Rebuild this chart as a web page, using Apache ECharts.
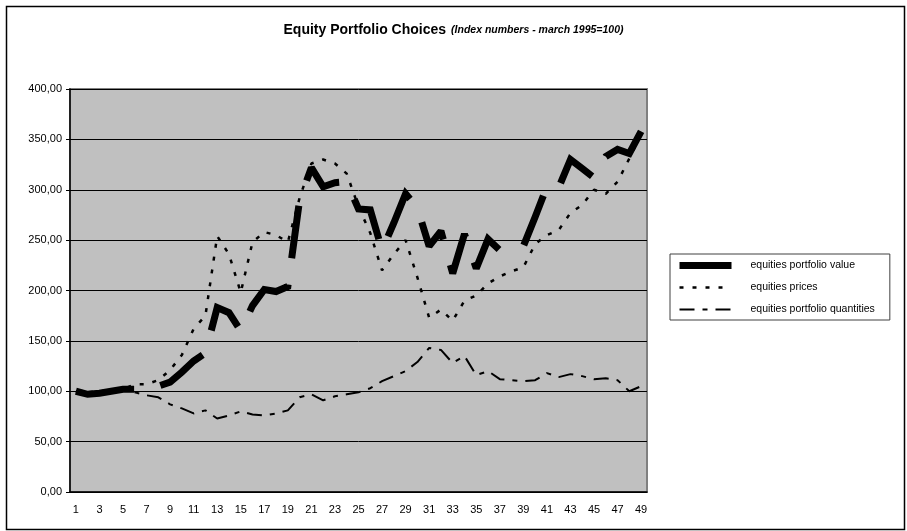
<!DOCTYPE html>
<html>
<head>
<meta charset="utf-8">
<script src="https://cdn.jsdelivr.net/npm/echarts@6/dist/echarts.min.js"></script>
<style>
  html, body { margin: 0; padding: 0; background: #fff; }
  #chart { width: 907px; height: 531px; }
</style>
</head>
<body>
<div id="chart"></div>
<script>
// x categories (months since march 1995)
const categories = ["1","2","3","4","5","6","7","8","9","10","11","12","13","14","15","16","17","18","19","20",
  "21","22","23","24","25","26","27","28","29","30","31","32","33","34","35","36","37","38","39","40",
  "41","42","43","44","45","46","47","48","49"];

// index numbers
const portfolioValue = [100, 97, 98, 100, 102, 102, 103, 105, 109, 119, 130, 138, 183, 178, 160, 185, 201, 199, 204, 290,
  322, 303, 307, 308, 281, 280, 240, 267, 296, 282, 244, 259, 217, 256, 222, 251, 240, 244, 244, 273,
  303, 302, 330, 321, 312, 333, 340, 336, 358];
const equityPrices = [100, 99, 100, 101, 102, 107, 107, 111, 121, 136, 162, 175, 254, 236, 198, 248, 258, 255, 248, 292,
  326, 330, 326, 316, 283, 257, 220, 236, 250, 213, 173, 181, 170, 190, 195, 207, 214, 219, 223, 246,
  255, 260, 277, 285, 300, 296, 308, 331, 355];
const portfolioQuantities = [100, 98, 99, 100, 101, 99, 96, 94, 87, 83, 78, 81, 73, 76, 80, 77, 76, 78, 81, 94,
  97, 91, 95, 97, 99, 103, 110, 115, 120, 129, 143, 141, 128, 135, 116, 120, 112, 111, 110, 111,
  118, 114, 117, 115, 112, 113, 111, 100, 105];

const yTicks = { min: 0, max: 400, step: 50 };
const FONT = "Liberation Sans, Arial, sans-serif";

// long-dash pattern of the heavy line: a slightly longer first dash, then regular dashes
const heavyDash = [59];
for (let i = 0; i < 16; i++) heavyDash.push(26.5, 53);
heavyDash.push(26.5);

const chart = echarts.init(document.getElementById("chart"));

chart.setOption({
  animation: false,
  backgroundColor: "#fff",
  textStyle: { fontFamily: FONT, color: "#000" },
  title: {
    text: "{a|Equity Portfolio Choices} {b|(Index numbers - march 1995=100)}",
    left: "center",
    top: 16,
    textStyle: {
      rich: {
        a: { fontSize: 14, fontWeight: "bold", fontFamily: FONT, color: "#000" },
        b: { fontSize: 10.5, fontWeight: "bold", fontStyle: "italic", fontFamily: FONT, color: "#000" }
      }
    }
  },
  graphic: [{
    type: "rect", left: 4, top: 4, silent: true,
    shape: { width: 898, height: 523 },
    style: { fill: "none", stroke: "#000", lineWidth: 1.5 }
  }],
  grid: {
    left: 70, right: 260, top: 89, bottom: 39,
    show: true, backgroundColor: "#C0C0C0", borderColor: "#808080", borderWidth: 2
  },
  legend: {
    orient: "vertical",
    left: 670, top: 254,
    padding: [5, 15, 4, 6],
    itemWidth: 52, itemHeight: 8, itemGap: 9,
    borderColor: "#404040", borderWidth: 1,
    backgroundColor: "#fff",
    itemStyle: { opacity: 0 },
    textStyle: { fontSize: 10.5, fontFamily: FONT, color: "#000", padding: [0, 0, 0, 14], lineHeight: 13 },
    data: [
      { name: "equities portfolio value", lineStyle: { width: 7 } },
      { name: "equities prices", lineStyle: { width: 2.5 } },
      { name: "equities portfolio quantities", lineStyle: { width: 2 } }
    ]
  },
  xAxis: {
    type: "category",
    data: categories,
    boundaryGap: true,
    axisLine: { lineStyle: { color: "#000", width: 1.5 } },
    axisTick: { inside: true, length: 4, interval: 0, lineStyle: { color: "#000" } },
    axisLabel: { interval: 1, margin: 12, fontSize: 11, color: "#000", fontFamily: FONT },
    splitLine: { show: false }
  },
  yAxis: {
    type: "value",
    min: yTicks.min, max: yTicks.max, interval: yTicks.step,
    axisLine: { show: true, lineStyle: { color: "#000", width: 1.5 } },
    axisTick: { show: true, length: 4, lineStyle: { color: "#000" } },
    axisLabel: {
      margin: 8, fontSize: 11, color: "#000", fontFamily: FONT,
      formatter: v => v.toFixed(2).replace(".", ",")
    },
    splitLine: { lineStyle: { color: "#000", width: 1 } }
  },
  series: [
    {
      name: "equities prices", type: "line", data: equityPrices,
      symbol: "none", z: 2, itemStyle: { color: "#000" },
      lineStyle: { color: "#000", width: 2.5, type: [4, 9], cap: "butt" }
    },
    {
      name: "equities portfolio quantities", type: "line", data: portfolioQuantities,
      symbol: "none", z: 3, itemStyle: { color: "#000" },
      lineStyle: { color: "#000", width: 2, type: [15, 8, 5, 8], cap: "butt" }
    },
    {
      name: "equities portfolio value", type: "line", data: portfolioValue,
      symbol: "none", z: 4, itemStyle: { color: "#000" },
      lineStyle: { color: "#000", width: 7, type: heavyDash, cap: "butt", join: "miter", miterLimit: 2 }
    }
  ]
});
</script>
</body>
</html>
